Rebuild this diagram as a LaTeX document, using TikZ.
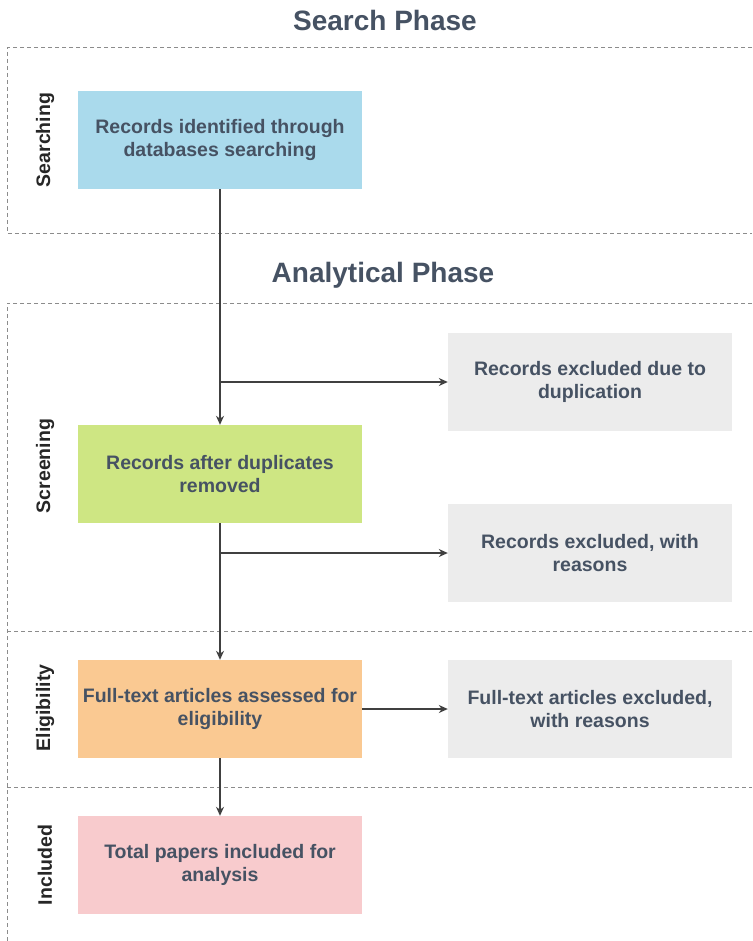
\documentclass[tikz,border=0pt]{standalone}
\usepackage{fontspec}
\setmainfont{Liberation Sans}
\usetikzlibrary{arrows.meta, positioning}

\definecolor{textgray}{RGB}{70,82,99}
\definecolor{searchblue}{RGB}{170,218,236}
\definecolor{screengreen}{RGB}{206,230,131}
\definecolor{eligorange}{RGB}{250,201,146}
\definecolor{inclpink}{RGB}{248,203,205}
\definecolor{exclgray}{RGB}{236,236,236}
\definecolor{dashgray}{RGB}{140,140,140}

\begin{document}
\begin{tikzpicture}[
  x=1pt, y=-1pt,
  font=\bfseries,
  stagebox/.style={minimum width=284pt, minimum height=98pt, inner sep=2pt,
    align=center, text=textgray, font=\fontsize{19.5}{23.5}\selectfont\bfseries},
  phasetitle/.style={text=textgray, font=\fontsize{28}{32}\selectfont\bfseries},
  phaseline/.style={dashgray, dash pattern=on 4pt off 3pt, line width=1pt},
  sidelabel/.style={rotate=90, text=black!85, font=\fontsize{19.5}{22}\selectfont\bfseries},
  flow/.style={-{Stealth[length=9pt,width=8pt]}, black!75, line width=1.3pt}
]

\useasboundingbox (0,0) rectangle (752,941);

% ------------------- Search Phase ------------------- %
\node[phasetitle] (searchtitle) at (385,20) {Search Phase};
\draw[phaseline] (752,48) -- (7,48) -- (7,233) -- (752,233);
\node[sidelabel] (searching) at (45,140) {Searching};

\node[stagebox, fill=searchblue] (identified) at (220,140) {Records identified through\\databases searching};

% ------------------- Analytical Phase ------------------- %
\node[phasetitle] (analytictitle) at (383,275) {Analytical Phase};
\draw[phaseline] (752,303) -- (7,303) -- (7,941);
\draw[phaseline] (7,631) -- (752,631);
\draw[phaseline] (7,787) -- (752,787);

\node[sidelabel] (screening) at (45,466) {Screening};
\node[sidelabel] (eligibility) at (45,708) {Eligibility};
\node[sidelabel] (included) at (45,865) {Included};

% stage boxes
\node[stagebox, fill=screengreen] (dedup) at (220,474) {Records after duplicates\\removed};
\node[stagebox, fill=eligorange] (fulltext) at (220,709) {Full-text articles assessed for\\eligibility};
\node[stagebox, fill=inclpink] (total) at (220,865) {Total papers included for\\analysis};

% excluded boxes
\node[stagebox, fill=exclgray] (dupexcl) at (590,382) {Records excluded due to\\duplication};
\node[stagebox, fill=exclgray] (reasonexcl) at (590,553) {Records excluded, with\\reasons};
\node[stagebox, fill=exclgray] (fullexcl) at (590,709) {Full-text articles excluded,\\with reasons};

% ------------------- Connectors ------------------- %
\coordinate (split1) at (identified.south |- dupexcl.west);
\coordinate (split2) at (dedup.south |- reasonexcl.west);

\draw[flow] (identified.south) -- (dedup.north);
\draw[flow] (split1) -- (dupexcl.west);
\draw[flow] (dedup.south) -- (fulltext.north);
\draw[flow] (split2) -- (reasonexcl.west);
\draw[flow] (fulltext.east) -- (fullexcl.west);
\draw[flow] (fulltext.south) -- (total.north);

\end{tikzpicture}
\end{document}
